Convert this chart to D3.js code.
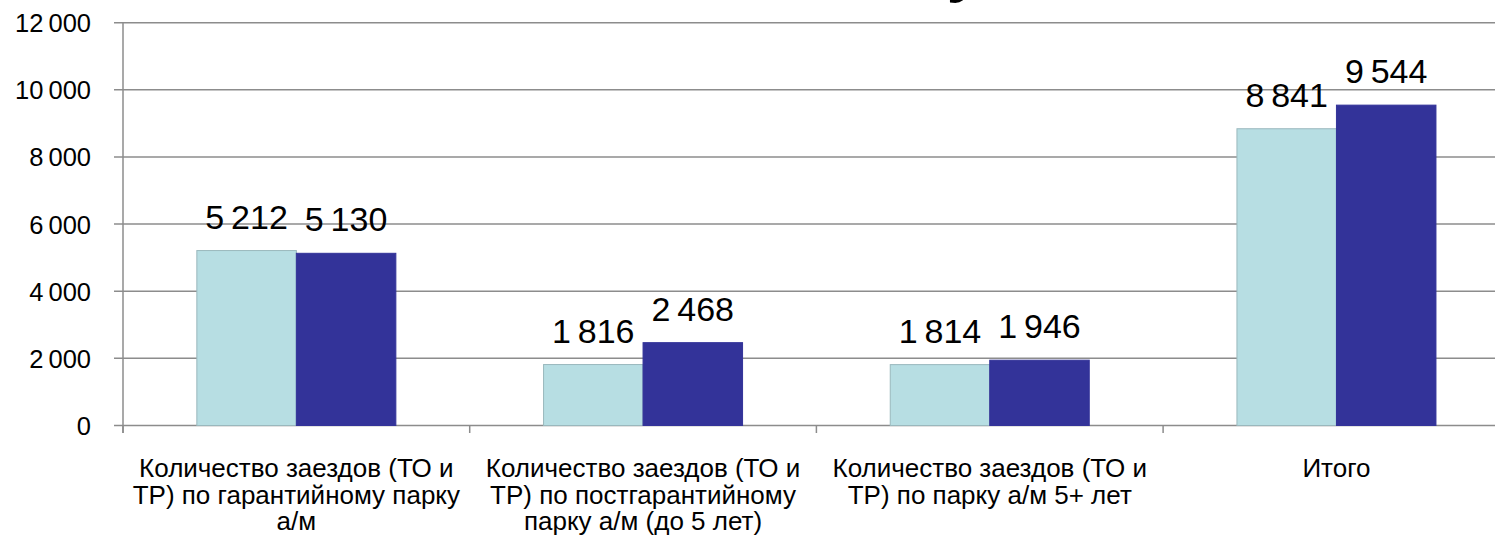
<!DOCTYPE html>
<html><head><meta charset="utf-8">
<script src="https://cdn.jsdelivr.net/npm/d3@7"></script>
<style>
html,body{margin:0;padding:0;background:#fff;overflow:hidden}
text{font-family:"Liberation Sans",Arial,sans-serif;fill:#000}
</style></head>
<body>
<svg id="c" width="1495" height="537"></svg>
<script>
const categories = [
  ["Количество заездов (ТО и", "ТР) по гарантийному парку", "а/м"],
  ["Количество заездов (ТО и", "ТР) по постгарантийному", "парку а/м (до 5 лет)"],
  ["Количество заездов (ТО и", "ТР) по парку а/м 5+ лет"],
  ["Итого"]
];
const seriesNames = ["Период 1", "Период 2"];
const series1 = [5212, 1816, 1814, 8841];
const series2 = [5130, 2468, 1946, 9544];
const yTicks = [0, 2000, 4000, 6000, 8000, 10000, 12000];
const colors = ["#B7DEE3", "#333399"];

const svg = d3.select("#c");
const fmt = v => d3.format(",")(v).replace(/,/g, "\u2009");

const left = 123, step = 346.7;
const x = d3.scaleBand().domain(d3.range(categories.length))
  .range([left, left + step * categories.length]).paddingInner(0.426).paddingOuter(0.213);
const xs = d3.scaleBand().domain([0, 1]).range([0, x.bandwidth()]);
const y = d3.scaleLinear().domain([0, 12000]).range([425.5, 22.7]);

// cut-off title fragment
svg.append("text").attr("x", 964).attr("y", -10).attr("text-anchor", "middle")
  .style("font-size", "62px").style("font-weight", "bold").text("у");

// gridlines
svg.append("g").selectAll("line").data(yTicks).join("line")
  .attr("x1", 114).attr("x2", 1495).attr("y1", d => y(d)).attr("y2", d => y(d))
  .attr("stroke", "#8c8c8c").attr("stroke-width", 1.5);

// y labels
svg.append("g").selectAll("text").data(yTicks).join("text")
  .attr("x", 91).attr("y", d => y(d) + 9.5).attr("text-anchor", "end")
  .style("font-size", "25.5px").text(fmt);

// axis line
svg.append("line").attr("x1", left).attr("x2", left).attr("y1", y(12000)).attr("y2", 433)
  .attr("stroke", "#8c8c8c").attr("stroke-width", 1.5);
// category ticks
svg.append("g").selectAll("line").data(d3.range(categories.length + 1)).join("line")
  .attr("x1", d => left + d * step).attr("x2", d => left + d * step)
  .attr("y1", y(0)).attr("y2", 433).attr("stroke", "#8c8c8c").attr("stroke-width", 1.5);

const data = categories.map((c, i) => [series1[i], series2[i]]);
const g = svg.append("g").selectAll("g").data(data).join("g")
  .attr("transform", (d, i) => `translate(${x(i)},0)`);
g.selectAll("rect").data(d => d).join("rect")
  .attr("x", (d, j) => xs(j)).attr("width", xs.bandwidth())
  .attr("y", d => y(d)).attr("height", d => y(0) - y(d))
  .attr("fill", (d, j) => colors[j])
  .attr("stroke", (d, j) => j === 0 ? "#9ab8bd" : colors[1]).attr("stroke-width", 1);
g.selectAll("text").data(d => d).join("text")
  .attr("x", (d, j) => xs(j) + xs.bandwidth() / 2).attr("y", d => y(d) - 22)
  .attr("text-anchor", "middle").style("font-size", "34px").text(fmt);

// category labels (one text per line)
const lines = categories.flatMap((c, i) => c.map((t, k) => ({i, k, t})));
svg.append("g").selectAll("text").data(lines).join("text")
  .attr("x", d => x(d.i) + x.bandwidth() / 2).attr("y", d => 477 + d.k * 26.5)
  .attr("text-anchor", "middle").style("font-size", "26px").text(d => d.t);
</script>
</body></html>
